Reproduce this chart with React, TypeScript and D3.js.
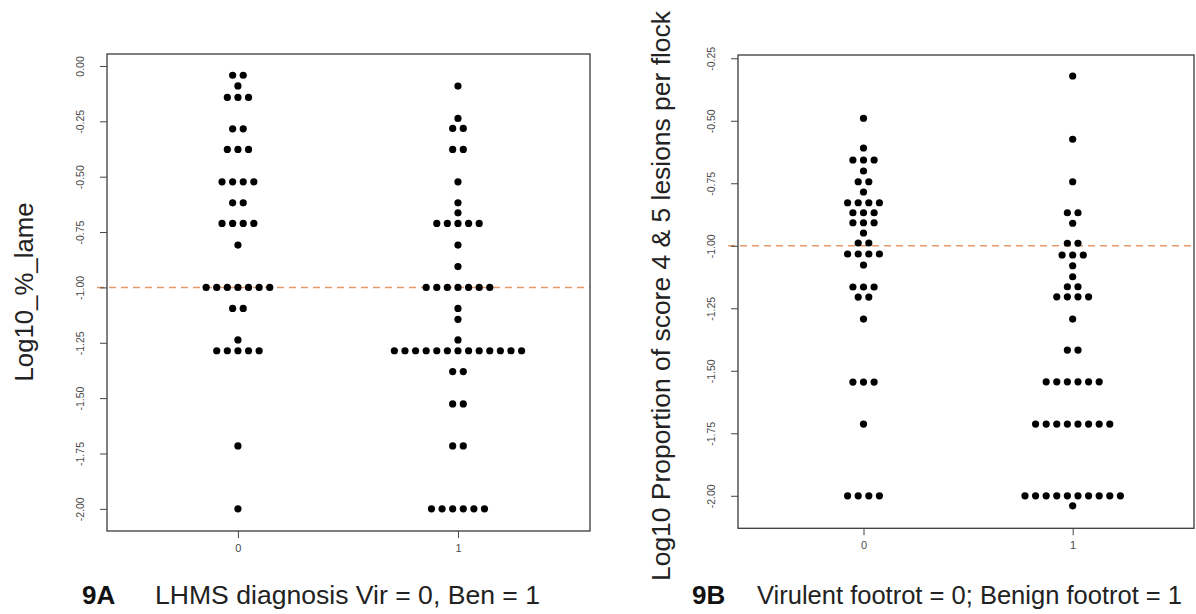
import { useEffect, useRef } from 'react';
import * as d3 from 'd3';

// 9A: log10 % lame, LHMS diagnosis (0 = virulent, 1 = benign)
const lameVirLevels = [-0.042, -0.09, -0.142, -0.284, -0.377, -0.523, -0.618, -0.711, -0.809, -1.0, -1.095, -1.237, -1.286, -1.716, -2.0];
const lameVirCounts = [2, 1, 3, 2, 3, 4, 2, 4, 1, 7, 2, 1, 5, 1, 1];
const lameBenLevels = [-0.091, -0.237, -0.282, -0.377, -0.523, -0.618, -0.663, -0.711, -0.809, -0.906, -1.0, -1.095, -1.144, -1.237, -1.286, -1.38, -1.526, -1.716, -2.0];
const lameBenCounts = [1, 1, 2, 2, 1, 1, 1, 5, 1, 1, 7, 1, 1, 1, 13, 2, 2, 2, 6];

// 9B: log10 proportion of score 4 & 5 lesions, virulent (0) vs benign (1) footrot
const footVirLevels = [-0.49, -0.609, -0.657, -0.701, -0.744, -0.785, -0.828, -0.868, -0.908, -0.949, -0.989, -1.033, -1.077, -1.165, -1.205, -1.293, -1.545, -1.713, -2.0];
const footVirCounts = [1, 1, 3, 1, 2, 1, 4, 3, 3, 1, 2, 4, 1, 3, 2, 1, 3, 1, 4];
const footBenLevels = [-0.321, -0.574, -0.744, -0.868, -0.91, -0.99, -1.037, -1.08, -1.124, -1.164, -1.204, -1.293, -1.417, -1.544, -1.713, -2.0, -2.04];
const footBenCounts = [1, 1, 1, 2, 1, 2, 3, 1, 1, 2, 4, 1, 2, 6, 8, 10, 1];

const groups = [0, 1];
const refLine = -1;
const lameTicks = [0, -0.25, -0.5, -0.75, -1, -1.25, -1.5, -1.75, -2];
const footTicks = [-0.25, -0.5, -0.75, -1, -1.25, -1.5, -1.75, -2];

const FONT = '"Liberation Sans", Arial, sans-serif';

interface Panel {
  xRange: [number, number];
  xDomain: [number, number];
  yRange: [number, number];
  yDomain: [number, number];
  ticks: number[];
  series: { levels: number[]; counts: number[] }[];
  yTitle: string;
  yTitleX: number;
  yTitleY: number;
  yTitleLen: number;
  tag: string;
  tagX: number;
  caption: string;
  captionX: number;
  captionLen: number;
}

const panels: Panel[] = [
  {
    xRange: [107, 590],
    xDomain: [-0.595, 1.6],
    yRange: [531, 54],
    yDomain: [-2.1, 0.054],
    ticks: lameTicks,
    series: [
      { levels: lameVirLevels, counts: lameVirCounts },
      { levels: lameBenLevels, counts: lameBenCounts },
    ],
    yTitle: 'Log10_%_lame',
    yTitleX: 33,
    yTitleY: 292,
    yTitleLen: 179,
    tag: '9A',
    tagX: 82,
    caption: 'LHMS diagnosis Vir = 0, Ben = 1',
    captionX: 155,
    captionLen: 385,
  },
  {
    xRange: [738, 1194],
    xDomain: [-0.6, 1.58],
    yRange: [528.3, 55],
    yDomain: [-2.13, -0.237],
    ticks: footTicks,
    series: [
      { levels: footVirLevels, counts: footVirCounts },
      { levels: footBenLevels, counts: footBenCounts },
    ],
    yTitle: 'Log10 Proportion of score 4 & 5 lesions per flock',
    yTitleX: 670,
    yTitleY: 296,
    yTitleLen: 570,
    tag: '9B',
    tagX: 692,
    caption: 'Virulent footrot = 0; Benign footrot = 1',
    captionX: 757,
    captionLen: 425,
  },
];

export default function App() {
  const svgRef = useRef<SVGSVGElement>(null);

  useEffect(() => {
    if (!svgRef.current) return;
    const width = 1196;
    const height = 614;
    const dotGap = 10.6;

    const svg = d3.select(svgRef.current);
    svg.selectAll('*').remove();
    svg.attr('width', width).attr('height', height);

    svg.append('rect').attr('width', width).attr('height', height).attr('fill', '#fff');

    panels.forEach((p) => {
      const x = d3.scaleLinear().domain(p.xDomain).range(p.xRange);
      const y = d3.scaleLinear().domain(p.yDomain).range(p.yRange);
      const g = svg.append('g');

      // Reference line
      g.append('line')
        .attr('x1', p.xRange[0] - 10)
        .attr('x2', p.xRange[1])
        .attr('y1', y(refLine))
        .attr('y2', y(refLine))
        .attr('stroke', '#e59a6a')
        .attr('stroke-width', 1.5)
        .attr('stroke-dasharray', '7,5');

      // Stacked dots, centred on each group
      const dots: { cx: number; cy: number }[] = [];
      p.series.forEach((s, gi) => {
        s.levels.forEach((lv, i) => {
          const n = s.counts[i];
          for (let k = 0; k < n; k++) {
            dots.push({ cx: x(groups[gi]) + (k - (n - 1) / 2) * dotGap, cy: y(lv) });
          }
        });
      });
      g.selectAll('circle.dot')
        .data(dots)
        .enter()
        .append('circle')
        .attr('class', 'dot')
        .attr('cx', (d) => d.cx)
        .attr('cy', (d) => d.cy)
        .attr('r', 3.6)
        .attr('fill', '#000');

      // Box
      g.append('rect')
        .attr('x', p.xRange[0])
        .attr('y', p.yRange[1])
        .attr('width', p.xRange[1] - p.xRange[0])
        .attr('height', p.yRange[0] - p.yRange[1])
        .attr('fill', 'none')
        .attr('stroke', '#3a3a3a')
        .attr('stroke-width', 1.3);

      // Y axis
      const ya = g.append('g')
        .attr('transform', `translate(${p.xRange[0]},0)`)
        .call(d3.axisLeft(y).tickValues(p.ticks).tickSize(7).tickFormat((d) => (+d).toFixed(2)));
      ya.select('.domain').remove();
      ya.selectAll('line').attr('stroke', '#444');
      ya.selectAll('text')
        .attr('x', null)
        .attr('dy', '0.35em')
        .attr('transform', 'translate(-27,0) rotate(-90)')
        .attr('text-anchor', 'middle')
        .attr('fill', '#4a4a4a')
        .attr('font-size', 10.5)
        .attr('font-family', FONT);

      // X axis
      const xa = g.append('g')
        .attr('transform', `translate(0,${p.yRange[0]})`)
        .call(d3.axisBottom(x).tickValues(groups).tickSize(7).tickFormat((d) => String(d)));
      xa.select('.domain').remove();
      xa.selectAll('line').attr('stroke', '#444');
      xa.selectAll('text')
        .attr('y', 13)
        .attr('fill', '#4a4a4a')
        .attr('font-size', 11)
        .attr('font-family', FONT);

      // Y title
      g.append('text')
        .attr('transform', `translate(${p.yTitleX},${p.yTitleY}) rotate(-90)`)
        .attr('text-anchor', 'middle')
        .attr('font-size', 26)
        .attr('font-family', FONT)
        .attr('fill', '#222')
        .attr('textLength', p.yTitleLen)
        .attr('lengthAdjust', 'spacingAndGlyphs')
        .text(p.yTitle);

      // Caption
      g.append('text')
        .attr('x', p.tagX)
        .attr('y', 604)
        .attr('font-size', 26)
        .attr('font-weight', 'bold')
        .attr('font-family', FONT)
        .attr('fill', '#111')
        .text(p.tag);
      g.append('text')
        .attr('x', p.captionX)
        .attr('y', 604)
        .attr('font-size', 26)
        .attr('font-family', FONT)
        .attr('fill', '#222')
        .attr('textLength', p.captionLen)
        .attr('lengthAdjust', 'spacingAndGlyphs')
        .text(p.caption);
    });
  }, []);

  return (
    <svg
      ref={svgRef}
      style={{ position: 'absolute', left: 0, top: 0, display: 'block' }}
    />
  );
}
